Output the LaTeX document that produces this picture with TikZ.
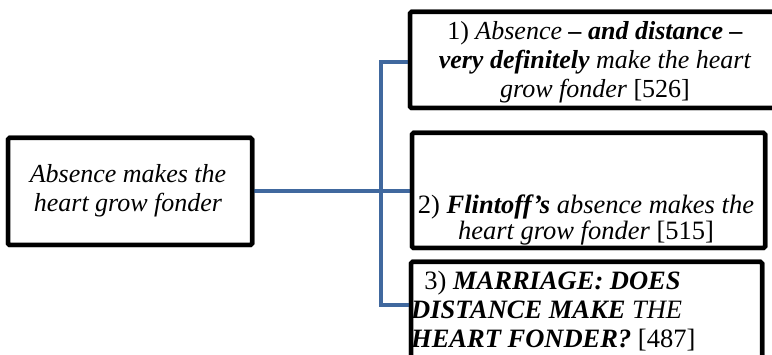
\documentclass[tikz,border=0pt]{standalone}
\usepackage{fontspec}
\setmainfont{Liberation Serif}
\definecolor{linkblue}{RGB}{64,104,158}
\begin{document}
\begin{tikzpicture}[x=1pt,y=-1pt,
  box/.style={draw=black,line width=4.5pt,rounded corners=1.5pt,fill=white,inner sep=0pt},
  txt/.style={inner sep=0pt,font=\fontsize{26}{29}\selectfont},
  link/.style={draw=linkblue,line width=4pt}]
\useasboundingbox (0,0) rectangle (772,355);
\clip (0,0) rectangle (772,355);
% junction points of the connector tree
\coordinate (jtop) at (381,62);
\coordinate (jbot) at (381,305);
% boxes
\node[box,minimum width=244pt,minimum height=107pt] (src) at (130,191.5) {};
\node[box,minimum width=370pt,minimum height=96pt] (b1) at (595,60) {};
\node[box,minimum width=353pt,minimum height=115pt] (b2) at (588.5,190.5) {};
\node[box,minimum width=351pt,minimum height=110pt] (b3) at (586.5,317) {};
% connectors
\path[link] (src.east) -- (src.east -| b2.west);
\path[link] (jtop -| b1.west) -- (jtop) -- (jbot) -- (jbot -| b3.west);
% redraw the boxes over the connector ends
\node[box,minimum width=244pt,minimum height=107pt] at (src) {};
\node[box,minimum width=370pt,minimum height=96pt] at (b1) {};
\node[box,minimum width=353pt,minimum height=115pt] at (b2) {};
\node[box,minimum width=351pt,minimum height=110pt] at (b3) {};
% texts
\node[txt,align=center] (t0) at (128,191) {\itshape Absence makes the\\\itshape heart grow fonder};
\node[txt,align=center] (t1) at (595,62) {1) \textit{Absence} \textbf{\textit{– and distance –}}\\\textbf{\textit{very definitely}} \textit{make the heart}\\\textit{grow fonder} [526]};
\node[txt,align=center,font=\fontsize{26.5}{25.5}\selectfont] (t2) at (586,220) {2) \textbf{\textit{Flintoff’s}} \textit{absence makes the}\\\textit{heart grow fonder} [515]};
\node[txt,align=left,anchor=north west,font=\fontsize{26.5}{29}\selectfont] (t3) at (411,271) {\hspace*{0.5em}3) \textbf{\textit{MARRIAGE: DOES}}\\\textbf{\textit{DISTANCE MAKE}} \textit{THE}\\\textbf{\textit{HEART FONDER?}} [487]};
\end{tikzpicture}
\end{document}
